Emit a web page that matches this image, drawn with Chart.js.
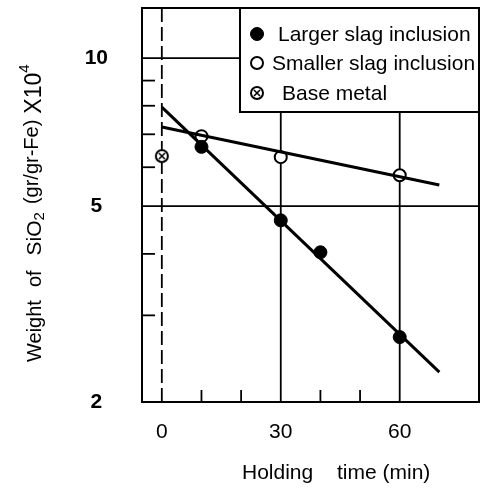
<!DOCTYPE html>
<html><head><meta charset="utf-8">
<script src="https://cdn.jsdelivr.net/npm/chart.js@4"></script>
<style>html,body{margin:0;padding:0;background:#fff;}</style>
</head><body><canvas id="c" width="487" height="488"></canvas>
<script>
const largeTime=[10,30,40,60];
const largeWeight=[6.6,4.68,4.03,2.71];
const smallTime=[10,30,60];
const smallWeight=[6.94,6.29,5.78];
const baseTime=[0];
const baseWeight=[6.32];
const largeFitTime=[0,70];
const largeFitWeight=[7.95,2.30];
const smallFitTime=[0,70];
const smallFitWeight=[7.24,5.52];
const xTickValues=[0,30,60];
const xMinorTicks=[10,20,40,50];
const yTickValues=[2,5,10];
const yMinorTicks=[3,4,6,7,8,9];
const xGridValues=[30,60];
const yGridValues=[5,10];
const legendLabels=['Larger slag inclusion','Smaller slag inclusion','Base metal'];
const xTitleParts=['Holding','time (min)'];
const yTitleParts=[['Weight',20,0,13],['of',20,0,15],['SiO',21,0,0],['2',15,5,8],['(gr/gr-Fe)',20,-3,6],['X10',23,0,0],['4',15,-10,0]];

const FONT='"Liberation Sans", Arial, sans-serif';
const pts=(xs,ys)=>xs.map((x,i)=>({x:x,y:ys[i]}));

const baseImg=document.createElement('canvas');
baseImg.width=16;baseImg.height=16;
(function(){const g=baseImg.getContext('2d');g.strokeStyle='#000';g.lineWidth=2;
g.fillStyle='#fff';g.beginPath();g.arc(8,8,6,0,Math.PI*2);g.fill();g.stroke();
g.lineWidth=1.6;g.beginPath();g.moveTo(5,5);g.lineTo(11,11);g.moveTo(11,5);g.lineTo(5,11);g.stroke();})();

const decor={
  id:'decor',
  beforeDatasetsDraw(chart){
    const {ctx,chartArea:a,scales:{x,y}}=chart;
    ctx.save();
    ctx.strokeStyle='#000';
    ctx.lineWidth=2;
    ctx.strokeRect(a.left,a.top,a.right-a.left,a.bottom-a.top);
    ctx.lineWidth=1.8;
    yGridValues.forEach(v=>{const p=y.getPixelForValue(v);ctx.beginPath();ctx.moveTo(a.left,p);ctx.lineTo(a.right,p);ctx.stroke();});
    xGridValues.forEach(v=>{const p=x.getPixelForValue(v);ctx.beginPath();ctx.moveTo(p,a.top);ctx.lineTo(p,a.bottom);ctx.stroke();});
    ctx.setLineDash([14,5]);
    const p0=x.getPixelForValue(0);
    ctx.beginPath();ctx.moveTo(p0,a.top);ctx.lineTo(p0,a.bottom);ctx.stroke();
    ctx.setLineDash([]);
    yMinorTicks.forEach(v=>{const p=y.getPixelForValue(v);ctx.beginPath();ctx.moveTo(a.left,p);ctx.lineTo(a.left+13,p);ctx.stroke();});
    xMinorTicks.forEach(v=>{const p=x.getPixelForValue(v);ctx.beginPath();ctx.moveTo(p,a.bottom);ctx.lineTo(p,a.bottom-12);ctx.stroke();});
    ctx.restore();
  },
  afterDraw(chart){
    const {ctx,chartArea:a}=chart;
    ctx.save();
    const L=240,T=a.top,R=a.right,B=112;
    ctx.fillStyle='#fff';ctx.fillRect(L,T,R-L,B-T);
    ctx.strokeStyle='#000';ctx.lineWidth=2;ctx.strokeRect(L,T,R-L,B-T);
    const ds=chart.data.datasets;
    const rows=[{y:34,tx:278,d:ds[2]},{y:63,tx:272,d:ds[3]},{y:93,tx:282,d:ds[4]}];
    rows.forEach((r,i)=>{
      const d=r.d;
      if(d.pointStyle instanceof HTMLCanvasElement){ctx.drawImage(d.pointStyle,257-8,r.y-8);}
      else{ctx.beginPath();ctx.arc(257,r.y,d.pointRadius,0,Math.PI*2);ctx.fillStyle=d.backgroundColor;ctx.fill();ctx.lineWidth=d.borderWidth;ctx.strokeStyle=d.borderColor;ctx.stroke();}
      ctx.fillStyle='#000';ctx.font='21px '+FONT;ctx.textBaseline='middle';ctx.textAlign='left';
      ctx.fillText(legendLabels[i],r.tx,r.y+1);
    });
    ctx.font='21px '+FONT;ctx.textAlign='left';ctx.textBaseline='middle';
    ctx.fillText(xTitleParts[0],242,473);
    ctx.fillText(xTitleParts[1],337,473);
    ctx.translate(35,362);ctx.rotate(-Math.PI/2);
    let cx=0;ctx.textAlign='left';ctx.textBaseline='middle';
    yTitleParts.forEach(p=>{ctx.font=p[1]+'px '+FONT;ctx.fillText(p[0],cx,p[2]);cx+=ctx.measureText(p[0]).width+p[3];});
    ctx.restore();
  }
};

new Chart(document.getElementById('c'),{
  type:'scatter',
  data:{datasets:[
    {data:pts(largeFitTime,largeFitWeight),showLine:true,pointRadius:0,borderColor:'#000',borderWidth:3},
    {data:pts(smallFitTime,smallFitWeight),showLine:true,pointRadius:0,borderColor:'#000',borderWidth:3},
    {data:pts(largeTime,largeWeight),pointRadius:6.5,backgroundColor:'#000',borderColor:'#000',borderWidth:1},
    {data:pts(smallTime,smallWeight),pointRadius:6,backgroundColor:'#fff',borderColor:'#000',borderWidth:2},
    {data:pts(baseTime,baseWeight),pointStyle:baseImg,pointRadius:7}
  ]},
  options:{
    responsive:false,animation:false,devicePixelRatio:1,
    layout:{padding:{top:8,right:4,left:0,bottom:0}},
    plugins:{legend:{display:false},tooltip:{enabled:false}},
    scales:{
      x:{type:'linear',min:-5,max:80,
        afterBuildTicks:s=>{s.ticks=xTickValues.map(v=>({value:v}));},
        afterFit:s=>{s.height=86;s.paddingLeft=0;s.paddingRight=0;},
        grid:{display:false,drawTicks:false},border:{display:false},
        ticks:{color:'#000',font:{size:21,family:FONT},padding:18,maxRotation:0,autoSkip:false}},
      y:{type:'logarithmic',min:2,max:12.64,
        afterBuildTicks:s=>{s.ticks=yTickValues.map(v=>({value:v}));},
        afterFit:s=>{s.width=142;s.paddingTop=0;s.paddingBottom=0;},
        grid:{display:false,drawTicks:false},border:{display:false},
        ticks:{color:'#000',font:{size:21,weight:'bold',family:FONT},padding:34,crossAlign:'center',autoSkip:false,callback:v=>String(v)}}
    }
  },
  plugins:[decor]
});
</script></body></html>
